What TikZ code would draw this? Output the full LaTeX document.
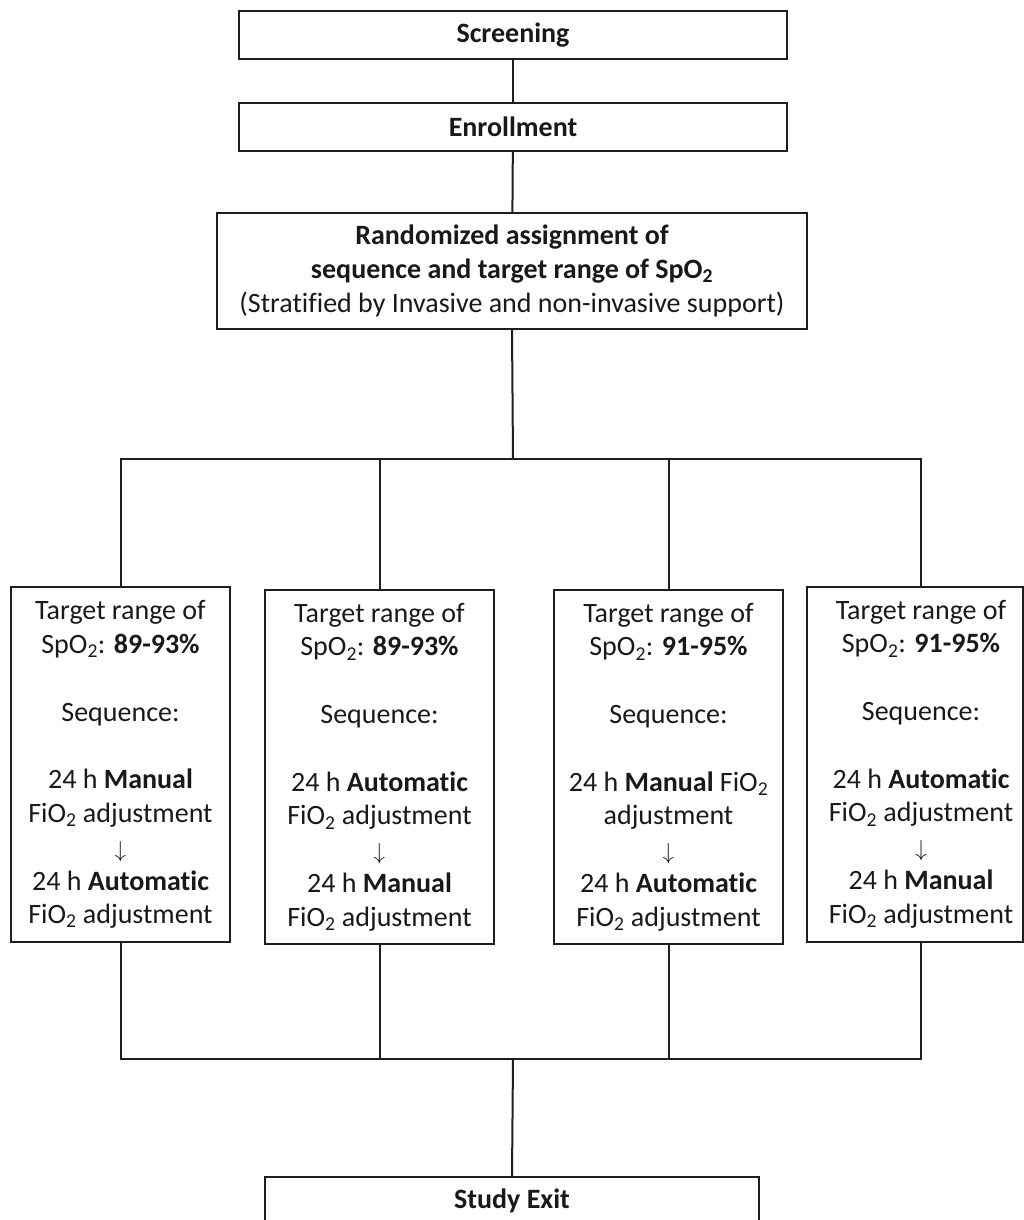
\documentclass[tikz,border=0pt]{standalone}
\usepackage{graphicx}
\usepackage{fontspec}
\setmainfont{Carlito}[Ligatures=NoCommon]
\newcommand{\dn}{\raisebox{-1pt}{\resizebox{!}{16pt}{$\downarrow$}}}
\newcommand{\two}{\textsubscript{2}}
\begin{document}
\begin{tikzpicture}[x=1pt,y=-1pt,
  box/.style={draw=black!88, line width=1.8pt, rectangle, inner sep=0pt, align=center,
     font=\fontsize{28}{33.8}\selectfont, text=black!90},
  link/.style={draw=black!88, line width=2pt}]
\useasboundingbox (0,0) rectangle (1024,1220);
\fill[white] (0,0) rectangle (1024,1220);

\node[box, minimum width=548pt, minimum height=48pt] (scr) at (513,35) {\textbf{Screening}};
\node[box, minimum width=548pt, minimum height=48pt] (enr) at (513,127) {\textbf{Enrollment}};
\node[box, minimum width=590pt, minimum height=116pt] (rand) at (512,271)
  {\textbf{Randomized assignment of}\\ \textbf{sequence and target range of SpO\two}\\(Stratified by Invasive and non-invasive support)};

\node[box, minimum width=219pt, minimum height=355pt] (b1) at (120.5,764.5)
  {Target range of\\SpO\two: \textbf{89-93\%}\\ ~ \\Sequence:\\ ~ \\24 h \textbf{Manual}\\FiO\two{} adjustment\\ \dn \\24 h \textbf{Automatic}\\FiO\two{} adjustment};
\node[box, minimum width=229pt, minimum height=354pt] (b2) at (379.5,767)
  {Target range of\\SpO\two: \textbf{89-93\%}\\ ~ \\Sequence:\\ ~ \\24 h \textbf{Automatic}\\FiO\two{} adjustment\\ \dn \\24 h \textbf{Manual}\\FiO\two{} adjustment};
\node[box, minimum width=229pt, minimum height=354pt] (b3) at (668.5,767)
  {Target range of\\SpO\two: \textbf{91-95\%}\\ ~ \\Sequence:\\ ~ \\24 h \textbf{Manual} FiO\two\\adjustment\\ \dn \\24 h \textbf{Automatic}\\FiO\two{} adjustment};
\node[box, minimum width=216pt, minimum height=355pt] (b4) at (915,764.5)
  {\hspace*{12pt}\begin{tabular}{@{}c@{}}Target range of\\SpO\two: \textbf{91-95\%}\\ ~ \\Sequence:\\ ~ \\24 h \textbf{Automatic}\\FiO\two{} adjustment\\ \dn \\24 h \textbf{Manual}\\FiO\two{} adjustment\end{tabular}};

\node[box, minimum width=494pt, minimum height=48pt] (exit) at (512,1201) {\textbf{Study Exit}};

\coordinate (jt) at (513,459);
\coordinate (jb) at (513,1059);

\draw[link] (scr) -- (enr);
\draw[link] (enr) -- (rand);
\draw[link] (rand.south) -- (jt);
\draw[link] (b1.north) |- (jt);
\draw[link] (b2.north) |- (jt);
\draw[link] (b3.north) |- (jt);
\draw[link] ([xshift=6pt]b4.north) |- (jt);
\draw[link] (b1.south) |- (jb);
\draw[link] (b2.south) |- (jb);
\draw[link] (b3.south) |- (jb);
\draw[link] ([xshift=6pt]b4.south) |- (jb);
\draw[link] (jb) -- (exit.north);
\end{tikzpicture}
\end{document}
